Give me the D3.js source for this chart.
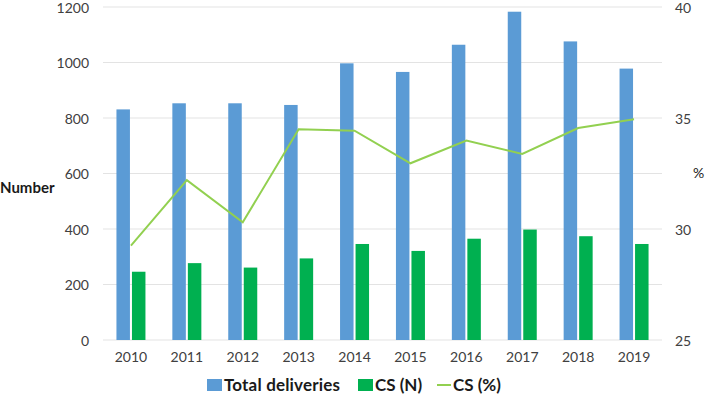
<!doctype html>
<html lang="en">
<head>
    <meta charset="utf-8">
    <title>Deliveries and CS</title>
    <script src="https://d3js.org/d3.v7.min.js"></script>
    <style>
        body { margin: 0; background: #fff; }
        text { font-family: Lato, "Open Sans", sans-serif; }
    </style>
</head>
<body>
    <script>
        // Data
        const years          = ["2010", "2011", "2012", "2013", "2014", "2015", "2016", "2017", "2018", "2019"];
        const totalDeliver   = [831, 853, 853, 847, 997, 966, 1064, 1183, 1076, 978];
        const csNumber       = [246, 277, 261, 294, 346, 321, 365, 398, 374, 346];
        const csPercent      = [29.25, 32.2, 30.3, 34.49, 34.43, 32.96, 33.98, 33.38, 34.55, 34.94];
        const leftTicks      = [0, 200, 400, 600, 800, 1000, 1200];
        const rightTicks     = [25, 30, 35, 40];

        const W = 709, H = 396;
        const plot = { left: 103, right: 662, top: 7, bottom: 340 };

        const svg = d3.select("body").append("svg")
            .attr("width", W)
            .attr("height", H);

        // Scales
        const x = d3.scaleBand().domain(years).range([plot.left, plot.right]);
        const sub = d3.scaleBand().domain(["total", "cs"]).range([x.bandwidth()/2 - 14.5, x.bandwidth()/2 + 14.5]).paddingInner(0.13);
        const yL = d3.scaleLinear().domain([0, 1200]).range([plot.bottom, plot.top]);
        const yR = d3.scaleLinear().domain([25, 40]).range([plot.bottom, plot.top]);

        // Gridlines
        svg.append("g")
            .selectAll("line")
            .data(leftTicks)
            .enter()
            .append("line")
            .attr("x1", plot.left)
            .attr("x2", plot.right)
            .attr("y1", d => yL(d))
            .attr("y2", d => yL(d))
            .attr("stroke", "#e3e3e3")
            .attr("stroke-width", 1);

        // Left axis
        const axL = svg.append("g")
            .attr("transform", "translate(" + (plot.left - 14) + ",0)")
            .call(d3.axisLeft(yL).tickValues(leftTicks).tickFormat(d3.format("d")).tickSize(0).tickPadding(0));
        axL.select(".domain").remove();
        axL.selectAll("text").attr("font-size", 14).attr("fill", "#404040").attr("dy", "0.38em");

        // Right axis
        const axR = svg.append("g")
            .attr("transform", "translate(" + (plot.right + 13) + ",0)")
            .call(d3.axisRight(yR).tickValues(rightTicks).tickSize(0).tickPadding(0));
        axR.select(".domain").remove();
        axR.selectAll("text").attr("font-size", 14).attr("fill", "#404040").attr("dy", "0.38em");

        // Bottom axis
        const axB = svg.append("g")
            .attr("transform", "translate(0," + (plot.bottom + 12) + ")")
            .call(d3.axisBottom(x).tickSize(0).tickPadding(0));
        axB.select(".domain").remove();
        axB.selectAll("text").attr("font-size", 14).attr("fill", "#404040").attr("dy", "0.71em");

        // Bars
        const groups = svg.append("g")
            .selectAll("g")
            .data(years)
            .enter()
            .append("g")
            .attr("transform", d => "translate(" + x(d) + ",0)");

        groups.append("rect")
            .attr("x", sub("total"))
            .attr("width", sub.bandwidth())
            .attr("y", (d, i) => yL(totalDeliver[i]))
            .attr("height", (d, i) => yL(0) - yL(totalDeliver[i]))
            .attr("fill", "#5b9bd5");

        groups.append("rect")
            .attr("x", sub("cs"))
            .attr("width", sub.bandwidth())
            .attr("y", (d, i) => yL(csNumber[i]))
            .attr("height", (d, i) => yL(0) - yL(csNumber[i]))
            .attr("fill", "#00b050");

        // CS % line
        svg.append("path")
            .datum(csPercent)
            .attr("fill", "none")
            .attr("stroke", "#92d050")
            .attr("stroke-width", 2)
            .attr("d", d3.line()
                .x((d, i) => x(years[i]) + x.bandwidth()/2)
                .y(d => yR(d))
            );

        // Axis titles
        svg.append("text")
            .attr("x", 0)
            .attr("y", 188)
            .attr("dy", "0.35em")
            .attr("font-size", 15)
            .attr("font-weight", "bold")
            .attr("fill", "#1a1a1a")
            .text("Number");

        svg.append("text")
            .attr("x", 693)
            .attr("y", 173)
            .attr("dy", "0.35em")
            .attr("font-size", 14)
            .attr("fill", "#1a1a1a")
            .text("%");

        // Legend
        const legend = svg.append("g").attr("transform", "translate(0,385)");

        legend.append("rect").attr("x", 207).attr("y", -6).attr("width", 15).attr("height", 12).attr("fill", "#5b9bd5");
        legend.append("text").attr("x", 224).attr("y", 0).attr("dy", "0.35em")
            .attr("font-size", 17).attr("font-weight", "bold").attr("fill", "#1a1a1a")
            .attr("textLength", 116)
            .text("Total deliveries");

        legend.append("rect").attr("x", 358).attr("y", -6).attr("width", 15).attr("height", 12).attr("fill", "#00b050");
        legend.append("text").attr("x", 375).attr("y", 0).attr("dy", "0.35em")
            .attr("font-size", 17).attr("font-weight", "bold").attr("fill", "#1a1a1a")
            .text("CS (N)");

        legend.append("line").attr("x1", 437).attr("x2", 451).attr("y1", 0).attr("y2", 0)
            .attr("stroke", "#92d050").attr("stroke-width", 2);
        legend.append("text").attr("x", 453).attr("y", 0).attr("dy", "0.35em")
            .attr("font-size", 17).attr("font-weight", "bold").attr("fill", "#1a1a1a")
            .text("CS (%)");
    </script>
</body>
</html>
